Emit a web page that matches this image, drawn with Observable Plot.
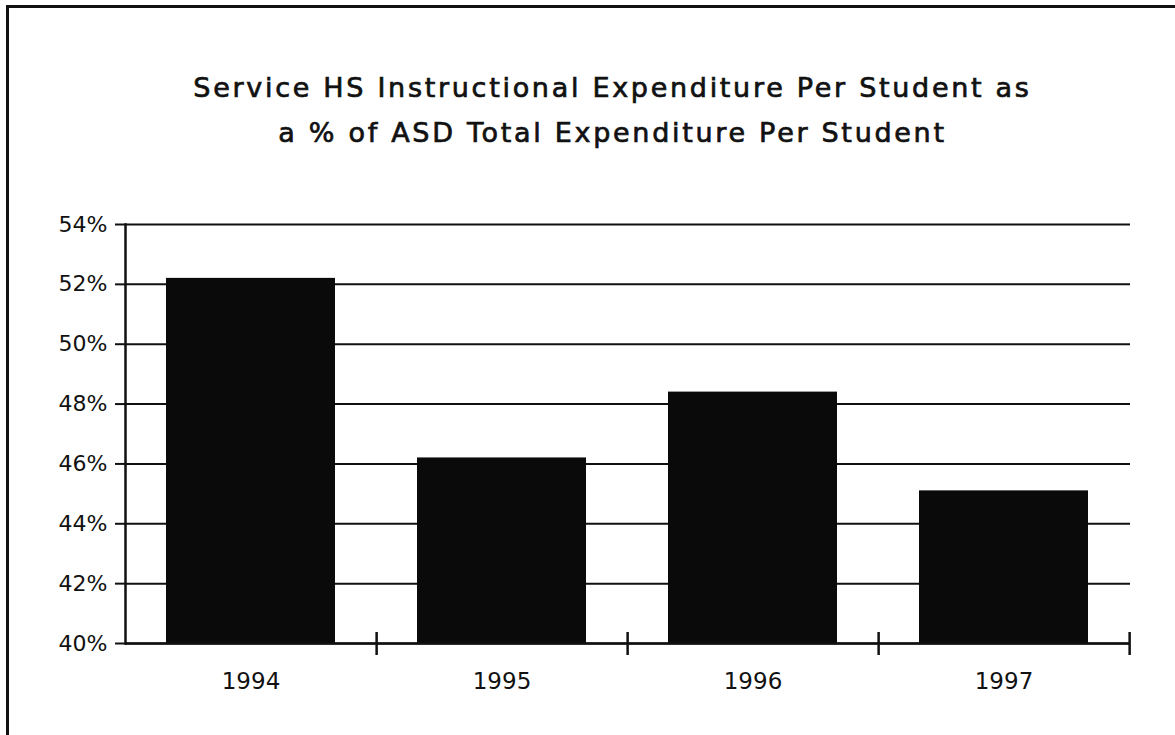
<!DOCTYPE html>
<html>
<head>
<meta charset="utf-8">
<script src="https://cdn.jsdelivr.net/npm/d3@7"></script>
<script src="https://cdn.jsdelivr.net/npm/@observablehq/plot@0.6"></script>
<style>
  html, body { margin: 0; padding: 0; background: #fff; }
  #page { position: relative; width: 1175px; height: 735px; overflow: hidden; background: #fff; }
  #frame { position: absolute; left: 6px; top: 5px; width: 1175px; height: 740px;
           border-left: 3px solid #111; border-top: 3px solid #111; box-sizing: border-box; }
  #title { position: absolute; left: 0; top: 65px; width: 1225px; text-align: center;
           font-family: "DejaVu Sans", sans-serif; font-size: 27px; line-height: 45px;
           letter-spacing: 2.7px; color: #111; -webkit-text-stroke: 0.7px #111; }
  #chart { position: absolute; left: 0; top: 190px; }
</style>
</head>
<body>
<div id="page">
  <div id="frame"></div>
  <div id="title">Service HS Instructional Expenditure Per Student as<br>a % of ASD Total Expenditure Per Student</div>
  <div id="chart"></div>
</div>
<script>
const years = ["1994", "1995", "1996", "1997"];
const values = [52.2, 46.2, 48.4, 45.1];
const yTicks = [40, 42, 44, 46, 48, 50, 52, 54];

const data = years.map((y, i) => ({year: y, value: values[i]}));

const W = 1175, H = 545;
const mL = 125, mR = 45, mT = 34, mB = 92;
const halfStep = (W - mL - mR) / years.length / 2;

const chart = Plot.plot({
  width: W,
  height: H,
  marginLeft: mL,
  marginRight: mR,
  marginTop: mT,
  marginBottom: mB,
  style: {fontFamily: "DejaVu Sans, sans-serif", fontSize: "20px", color: "#111", background: "transparent"},
  x: {domain: years, paddingInner: 0.325, paddingOuter: 0.16, label: null},
  y: {domain: [40, 54], ticks: yTicks, label: null},
  marks: [
    Plot.gridY(yTicks, {stroke: "#111", strokeOpacity: 1, strokeWidth: 2}),
    Plot.barY(data, {x: "year", y1: 40, y2: "value", fill: "#0a0a0a"}),
    Plot.ruleY([40], {stroke: "#111", strokeWidth: 2.5}),
    Plot.frame({anchor: "left", stroke: "#111", strokeWidth: 2.5}),
    Plot.ruleX(years, {x: d => d, y1: 40, y2: 40, dx: halfStep, insetTop: -11, insetBottom: -12, stroke: "#111", strokeWidth: 2.5}),
    Plot.axisY(yTicks, {tickFormat: d => d + "%", tickSize: 10, tickPadding: 8, stroke: "#111", strokeWidth: 2, fontSize: 22}),
    Plot.axisX({tickSize: 0, tickPadding: 29, fontSize: 23})
  ]
});
document.getElementById("chart").appendChild(chart);
</script>
</body>
</html>
